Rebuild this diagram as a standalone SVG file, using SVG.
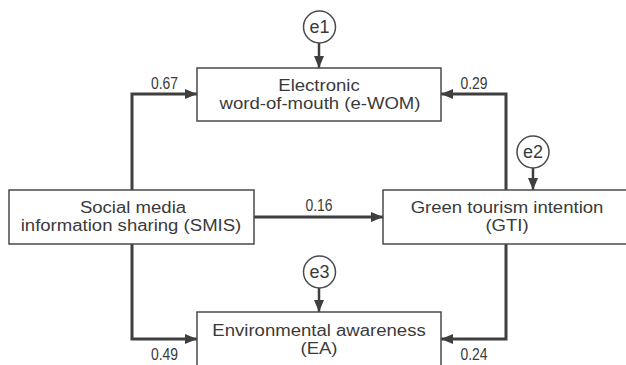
<svg xmlns="http://www.w3.org/2000/svg" width="626" height="365" viewBox="0 0 626 365">
<style>
.box{fill:#fff;stroke:#4a4a4a;stroke-width:1.5}
.circ{fill:#fff;stroke:#4a4a4a;stroke-width:1.5}
.t{font-family:"Liberation Sans",Arial,sans-serif;font-size:16px;fill:#3a3a3a;text-anchor:middle}
.lab{font-family:"Liberation Sans",Arial,sans-serif;font-size:16px;fill:#3a3a3a;text-anchor:middle}
.e{font-family:"Liberation Sans",Arial,sans-serif;font-size:18px;fill:#3a3a3a;text-anchor:middle}
.c{fill:none;stroke:#3f3f3f;stroke-width:3;marker-end:url(#ah)}
</style>
<defs>
<marker id="ah" markerUnits="userSpaceOnUse" markerWidth="12" markerHeight="10" refX="12" refY="5" orient="auto">
<path d="M0,0 L12,5 L0,10 Z" fill="#3f3f3f"/>
</marker>
</defs>
<rect width="626" height="365" fill="#fff"/>
<g id="connectors">
<path class="c" d="M132,190 V94 H197"/>
<path class="c" d="M506,190 V94 H441"/>
<path class="c" d="M254,217 H383"/>
<path class="c" d="M132,244 V339 H197"/>
<path class="c" d="M506,244 V339 H441"/>
<path class="c" d="M319,43 V68" style="stroke-width:2.5"/>
<path class="c" d="M533,168 V190" style="stroke-width:2.5"/>
<path class="c" d="M319,288 V312" style="stroke-width:2.5"/>
<text class="lab" transform="translate(164.5,89) scale(0.87,1)">0.67</text>
<text class="lab" transform="translate(474,89) scale(0.87,1)">0.29</text>
<text class="lab" transform="translate(319,211) scale(0.87,1)">0.16</text>
<text class="lab" transform="translate(164.5,360) scale(0.87,1)">0.49</text>
<text class="lab" transform="translate(474,360) scale(0.87,1)">0.24</text>
</g>
<g id="ewom">
<rect class="box" x="197" y="68" width="244" height="53"/>
<text class="t" transform="translate(319,90.5) scale(1.16,1)">Electronic</text>
<text class="t" transform="translate(320,108.5) scale(1.16,1)">word-of-mouth (e-WOM)</text>
</g>
<g id="smis">
<rect class="box" x="9" y="190" width="245" height="54"/>
<text class="t" transform="translate(133,213) scale(1.16,1)">Social media</text>
<text class="t" transform="translate(131,231) scale(1.16,1)">information sharing (SMIS)</text>
</g>
<g id="gti">
<rect class="box" x="383" y="190" width="250" height="54"/>
<text class="t" transform="translate(507,213) scale(1.16,1)">Green tourism intention</text>
<text class="t" transform="translate(507,231) scale(1.16,1)">(GTI)</text>
</g>
<g id="ea">
<rect class="box" x="197" y="312" width="244" height="60"/>
<text class="t" transform="translate(319,335.5) scale(1.16,1)">Environmental awareness</text>
<text class="t" transform="translate(319,353.5) scale(1.16,1)">(EA)</text>
</g>
<g id="e1">
<circle class="circ" cx="319.5" cy="27" r="16"/>
<text class="e" x="319.5" y="33">e1</text>
</g>
<g id="e2">
<circle class="circ" cx="533" cy="152" r="16"/>
<text class="e" x="533" y="158">e2</text>
</g>
<g id="e3">
<circle class="circ" cx="319.5" cy="272" r="16"/>
<text class="e" x="319.5" y="278">e3</text>
</g>
</svg>
